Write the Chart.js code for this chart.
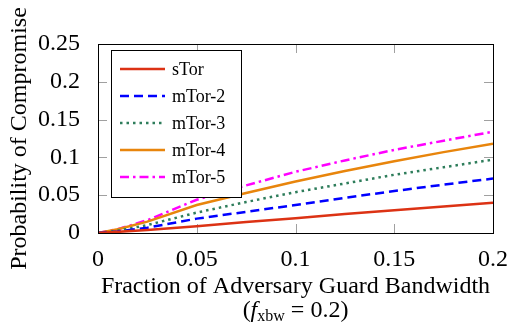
<!DOCTYPE html>
<html>
<head>
<meta charset="utf-8">
<script src="https://cdn.jsdelivr.net/npm/chart.js@4/dist/chart.umd.min.js"></script>
<style>
  html, body { margin: 0; padding: 0; background: #fff; }
  #wrap { width: 512px; height: 324px; }
</style>
</head>
<body>
<div id="wrap"><canvas id="chart"></canvas></div>
<script>
// Probability of compromise vs. adversary guard bandwidth (f_xbw = 0.2)

const xValues = [0, 0.01, 0.025, 0.05, 0.075, 0.1, 0.125, 0.15, 0.175, 0.2];
const sTor  = [0, 0.0015, 0.004, 0.009, 0.0145, 0.0195, 0.025, 0.030, 0.035, 0.040];
const mTor2 = [0, 0.002, 0.007, 0.019, 0.028, 0.037, 0.0465, 0.0555, 0.064, 0.072];
const mTor3 = [0, 0.003, 0.0105, 0.027, 0.041, 0.054, 0.0655, 0.077, 0.087, 0.097];
const mTor4 = [0, 0.005, 0.015, 0.037, 0.053, 0.068, 0.082, 0.095, 0.107, 0.118];
const mTor5 = [0, 0.005, 0.017, 0.044, 0.063, 0.081, 0.096, 0.110, 0.122, 0.134];

const seriesNames = ['sTor', 'mTor-2', 'mTor-3', 'mTor-4', 'mTor-5'];
const xTicks = [0, 0.05, 0.1, 0.15, 0.2];
const yTicks = [0, 0.05, 0.1, 0.15, 0.2, 0.25];

const FONT = '"Liberation Serif", "DejaVu Serif", serif';

function points(ys) {
  return xValues.map((x, i) => ({ x, y: ys[i] }));
}

function fmt(v) {
  return String(Number(v.toFixed(3)));
}

const styles = [
  { color: '#dc3214', dash: [] },
  { color: '#0000ff', dash: [9, 5] },
  { color: '#2e7d5b', dash: [2.5, 4] },
  { color: '#e8850c', dash: [] },
  { color: '#ff00ff', dash: [9, 4, 2.5, 4] },
];

const datasets = [sTor, mTor2, mTor3, mTor4, mTor5].map((ys, i) => ({
  label: seriesNames[i],
  data: points(ys),
  borderColor: styles[i].color,
  borderDash: styles[i].dash,
  borderWidth: 2.5,
  pointRadius: 0,
  tension: 0,
  fill: false,
}));

// inward tick marks on all four sides, frame, legend box and axis titles
const decorPlugin = {
  id: 'decor',
  beforeDatasetsDraw(chart) {
    const { ctx, chartArea: a, scales } = chart;
    const len = 9;
    ctx.save();
    ctx.strokeStyle = '#a0a0a0';
    ctx.lineWidth = 1;
    ctx.beginPath();
    xTicks.forEach(v => {
      const px = Math.round(scales.x.getPixelForValue(v)) + 0.5;
      ctx.moveTo(px, a.bottom); ctx.lineTo(px, a.bottom - len);
      ctx.moveTo(px, a.top); ctx.lineTo(px, a.top + len);
    });
    yTicks.forEach(v => {
      const py = Math.round(scales.y.getPixelForValue(v)) + 0.5;
      ctx.moveTo(a.left, py); ctx.lineTo(a.left + len, py);
      ctx.moveTo(a.right, py); ctx.lineTo(a.right - len, py);
    });
    ctx.stroke();
    ctx.restore();
  },
  afterDatasetsDraw(chart) {
    const { ctx, chartArea: a } = chart;
    ctx.save();
    ctx.strokeStyle = '#000';
    ctx.lineWidth = 1;
    ctx.strokeRect(Math.round(a.left) + 0.5, Math.round(a.top) + 0.5,
      Math.round(a.right - a.left), Math.round(a.bottom - a.top));

    // legend
    const lx = 111, ly = 50, lw = 130, lh = 147;
    ctx.fillStyle = '#fff';
    ctx.fillRect(lx, ly, lw, lh);
    ctx.strokeRect(lx + 0.5, ly + 0.5, lw, lh);
    ctx.font = '18px ' + FONT;
    ctx.textBaseline = 'middle';
    chart.data.datasets.forEach((ds, i) => {
      const y = 69 + i * 27;
      ctx.save();
      ctx.strokeStyle = ds.borderColor;
      ctx.lineWidth = ds.borderWidth;
      ctx.setLineDash(ds.borderDash);
      ctx.beginPath();
      ctx.moveTo(120, y);
      ctx.lineTo(165, y);
      ctx.stroke();
      ctx.restore();
      ctx.fillStyle = '#000';
      ctx.fillText(ds.label, 172, y + 1);
    });
    ctx.restore();
  },
  afterDraw(chart) {
    const { ctx, chartArea: a } = chart;
    const cx = (a.left + a.right) / 2;
    ctx.save();
    ctx.fillStyle = '#000';
    ctx.textBaseline = 'alphabetic';

    ctx.font = '24px ' + FONT;
    ctx.textAlign = 'center';
    ctx.fillText('Fraction of Adversary Guard Bandwidth', cx, 293);

    // second line: (f_xbw = 0.2)
    const parts = [
      { t: '(', f: '24px ' + FONT, dy: 0 },
      { t: 'f', f: 'italic 24px ' + FONT, dy: 0 },
      { t: 'xbw', f: '16px ' + FONT, dy: 4 },
      { t: ' = 0.2)', f: '24px ' + FONT, dy: 0 },
    ];
    ctx.textAlign = 'left';
    let total = 0;
    parts.forEach(p => { ctx.font = p.f; p.w = ctx.measureText(p.t).width; total += p.w; });
    let x = cx - total / 2;
    parts.forEach(p => { ctx.font = p.f; ctx.fillText(p.t, x, 317 + p.dy); x += p.w; });

    // y title
    ctx.font = '24px ' + FONT;
    ctx.textAlign = 'center';
    ctx.translate(26, (a.top + a.bottom) / 2);
    ctx.rotate(-Math.PI / 2);
    ctx.fillText('Probability of Compromise', 0, 0);
    ctx.restore();
  },
};

new Chart(document.getElementById('chart'), {
  type: 'line',
  data: { datasets },
  options: {
    responsive: true,
    maintainAspectRatio: false,
    animation: false,
    layout: { padding: { top: 44, right: 18, left: 0, bottom: 0 } },
    plugins: { legend: { display: false }, tooltip: { enabled: false } },
    scales: {
      x: {
        type: 'linear',
        min: 0,
        max: 0.2,
        afterBuildTicks: s => { s.ticks = xTicks.map(v => ({ value: v })); },
        afterFit: s => { s.height = 91; },
        grid: { display: false },
        border: { display: false },
        ticks: {
          color: '#000',
          font: { family: FONT, size: 24 },
          padding: 4,
          maxRotation: 0,
          autoSkip: false,
          callback: v => fmt(v),
        },
      },
      y: {
        type: 'linear',
        min: 0,
        max: 0.25,
        afterBuildTicks: s => { s.ticks = yTicks.map(v => ({ value: v })); },
        afterFit: s => { s.width = 98; },
        grid: { display: false },
        border: { display: false },
        ticks: {
          color: '#000',
          font: { family: FONT, size: 24 },
          padding: 10,
          autoSkip: false,
          callback: v => fmt(v),
        },
      },
    },
  },
  plugins: [decorPlugin],
});
</script>
</body>
</html>
